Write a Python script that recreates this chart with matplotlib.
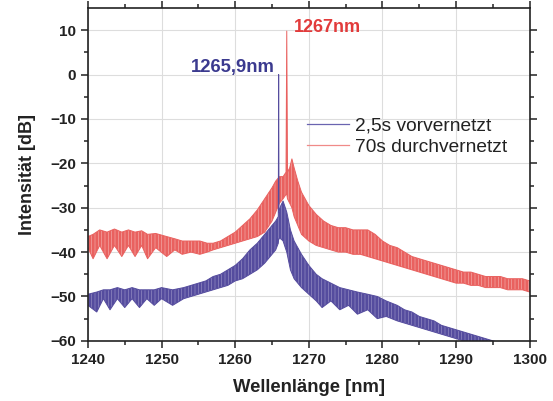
import matplotlib
matplotlib.use("Agg")
import matplotlib.pyplot as plt
from matplotlib.lines import Line2D

plt.rcParams['font.family'] = ['Liberation Sans', 'DejaVu Sans']
plt.rcParams['hatch.linewidth'] = 0.35

# 70s durchvernetzt (red) - envelope of the fringed spectrum
wl_red = [1240, 1240.7, 1241.6, 1242.6, 1243.6, 1244.6, 1245.5, 1246.4, 1247.3, 1248.1,
          1249.2, 1250.7, 1251.8, 1252.8, 1254, 1255.2, 1256.2, 1257, 1258, 1259,
          1260, 1261, 1262, 1263, 1264, 1265, 1265.5, 1266, 1266.5, 1266.9,
          1267.0, 1267.1, 1267.4, 1267.7, 1268, 1268.5, 1269, 1270, 1271, 1272,
          1273, 1274, 1275, 1276, 1277, 1278, 1279, 1280, 1281, 1282,
          1283, 1284, 1285, 1286, 1287, 1288, 1289, 1290, 1291, 1292,
          1293, 1294, 1295, 1296, 1297, 1298, 1299, 1300]
red_top = [-36.5, -36, -35, -35.5, -34.8, -35.5, -35, -35.5, -35.2, -36,
           -35.8, -36.5, -37, -37.5, -37.5, -37.5, -38, -38, -37.5, -36.5,
           -35.5, -34, -32.5, -30.5, -28, -25.5, -24, -23, -23, -22,
           9.8, -22, -21, -19, -21, -24, -26.5, -29.5, -31.5, -33,
           -34, -34.5, -34.5, -35, -35, -35, -36, -37.5, -38.5, -39,
           -40, -41, -41.5, -42, -42.5, -43, -43.5, -44, -44.5, -44.5,
           -45, -45.5, -45.5, -45.5, -46, -46, -46, -46.5]
red_bot = [-39, -41.5, -38.5, -41.5, -38.5, -41, -38.5, -41, -38.5, -41.5,
           -39, -41, -39.5, -40.5, -40, -40.5, -40, -39.5, -39, -38.5,
           -38, -37.5, -37, -36.5, -35.5, -33, -31, -29, -28, -27,
           -27, -28, -29, -30, -32, -34, -36, -37.5, -38.5, -39,
           -39.5, -40, -40, -40.5, -40.5, -41, -41.5, -42, -42.5, -43,
           -43.5, -44, -44.5, -45, -45.5, -46, -46.5, -47, -47, -47.5,
           -47.5, -48, -48, -48, -48.5, -48.5, -48.5, -49]

# 2,5s vorvernetzt (blue)
wl_blue = [1240, 1241.2, 1242.1, 1243, 1244, 1245, 1246, 1247, 1248, 1249,
           1250, 1251.5, 1253, 1254, 1255, 1256, 1257, 1258, 1259, 1260,
           1261, 1262, 1263, 1264, 1265, 1265.5, 1265.85, 1265.9, 1265.95, 1266.2,
           1266.5, 1267, 1267.5, 1268, 1269, 1270, 1271, 1271.8, 1273, 1274.2,
           1275.4, 1276.6, 1278, 1279.3, 1280.5, 1282, 1283, 1284, 1285, 1286,
           1287, 1288, 1289, 1290, 1291, 1292, 1293, 1294, 1295, 1296,
           1297, 1298, 1299, 1300]
blue_top = [-49.5, -49, -48.5, -48.5, -48, -48.5, -48, -48.5, -48.5, -48.5,
            -48, -48.5, -48, -47.5, -47, -46.5, -45.5, -45, -44, -43,
            -41.5, -39.5, -38, -36, -34, -33, -32, 0, -31, -29.5,
            -28.5, -31, -35, -37.5, -40.5, -43, -45, -46, -47, -48,
            -48.5, -49, -49.5, -50, -51, -52, -53, -53.5, -54.5, -55,
            -55.5, -56.5, -57, -57.5, -58, -58.5, -59, -59.5, -60, -60.5,
            -61, -61.5, -62, -62.5]
blue_bot = [-52, -53.5, -50.5, -53, -50.5, -52.5, -50.5, -52.5, -50.5, -52,
            -50.5, -52, -50.5, -50, -49.5, -49, -48.5, -48, -47.5, -46.5,
            -46, -45, -44, -42.5, -40.5, -39.5, -38, -37, -37, -37,
            -37.5, -40, -44, -46, -48, -49.5, -51, -52.5, -51, -53,
            -52, -54, -53, -55, -54.5, -55.5, -56, -56.5, -57, -57.5,
            -58, -58.5, -59, -59.5, -60, -60.5, -61, -61.5, -62, -62.5,
            -63, -63.5, -64, -64.5]

red = '#E9615F'
blue = '#554C9E'

fig = plt.figure(figsize=(5.53, 4.01), dpi=100)
ax = fig.add_axes([0.159, 0.150, 0.799, 0.830])

# fringes: filled band with faint white vertical streaks
ax.fill_between(wl_red, red_bot, red_top, facecolor=red, edgecolor='#F6C2C0',
                hatch='|||||', lw=0)
ax.plot(wl_red, red_top, color=red, lw=0.7)
ax.plot(wl_red, red_bot, color=red, lw=0.7)
ax.fill_between(wl_blue, blue_bot, blue_top, facecolor=blue, edgecolor='#A9A3D0',
                hatch='|||||', lw=0)
ax.plot(wl_blue, blue_top, color=blue, lw=0.7)
ax.plot(wl_blue, blue_bot, color=blue, lw=0.7)

ax.set_xlim(1240, 1300)
ax.set_ylim(-60, 15)
ax.set_xticks(range(1240, 1301, 10))
ax.set_yticks(range(-60, 11, 10))
ax.set_xticks(range(1245, 1300, 10), minor=True)
ax.set_yticks(range(-55, 15, 10), minor=True)
ax.grid(True, which='major', color='#DDDDDD', lw=0.8)
ax.set_axisbelow(True)

ax.tick_params(which='both', direction='out', top=True, right=True,
               labeltop=False, labelright=False, width=1.1, colors='#222222')
ax.tick_params(which='major', length=5, labelsize=11)
ax.tick_params(which='minor', length=3)
for lab in ax.get_xticklabels() + ax.get_yticklabels():
    lab.set_fontweight('bold')
for s in ax.spines.values():
    s.set_linewidth(1.2)
    s.set_color('#222222')

ax.set_xlabel('Wellenlänge [nm]', fontsize=13.3, fontweight='bold', color='#222222',
              labelpad=9)
ax.set_ylabel('Intensität [dB]', fontsize=13, fontweight='bold', color='#222222',
              labelpad=10)

ax.text(1265.4, 1.5, '1265,9nm', color='#3B3A8F', fontsize=13.3, fontweight='bold',
        ha='right', va='center')
ax.text(1267.9, 10.6, '1267nm', color='#E23B3B', fontsize=13, fontweight='bold',
        ha='left', va='center')

handles = [Line2D([], [], color='#6A64B0', lw=0.9),
           Line2D([], [], color='#F08A88', lw=0.9)]
ax.legend(handles, ['2,5s vorvernetzt', '70s durchvernetzt'], loc='upper left',
          bbox_to_anchor=(0.496, 0.672), frameon=False, fontsize=13.8,
          handlelength=2.2, handletextpad=0.32, labelspacing=0.2,
          borderpad=0, borderaxespad=0, labelcolor='#222222')

fig.savefig('out.png', dpi=100)
